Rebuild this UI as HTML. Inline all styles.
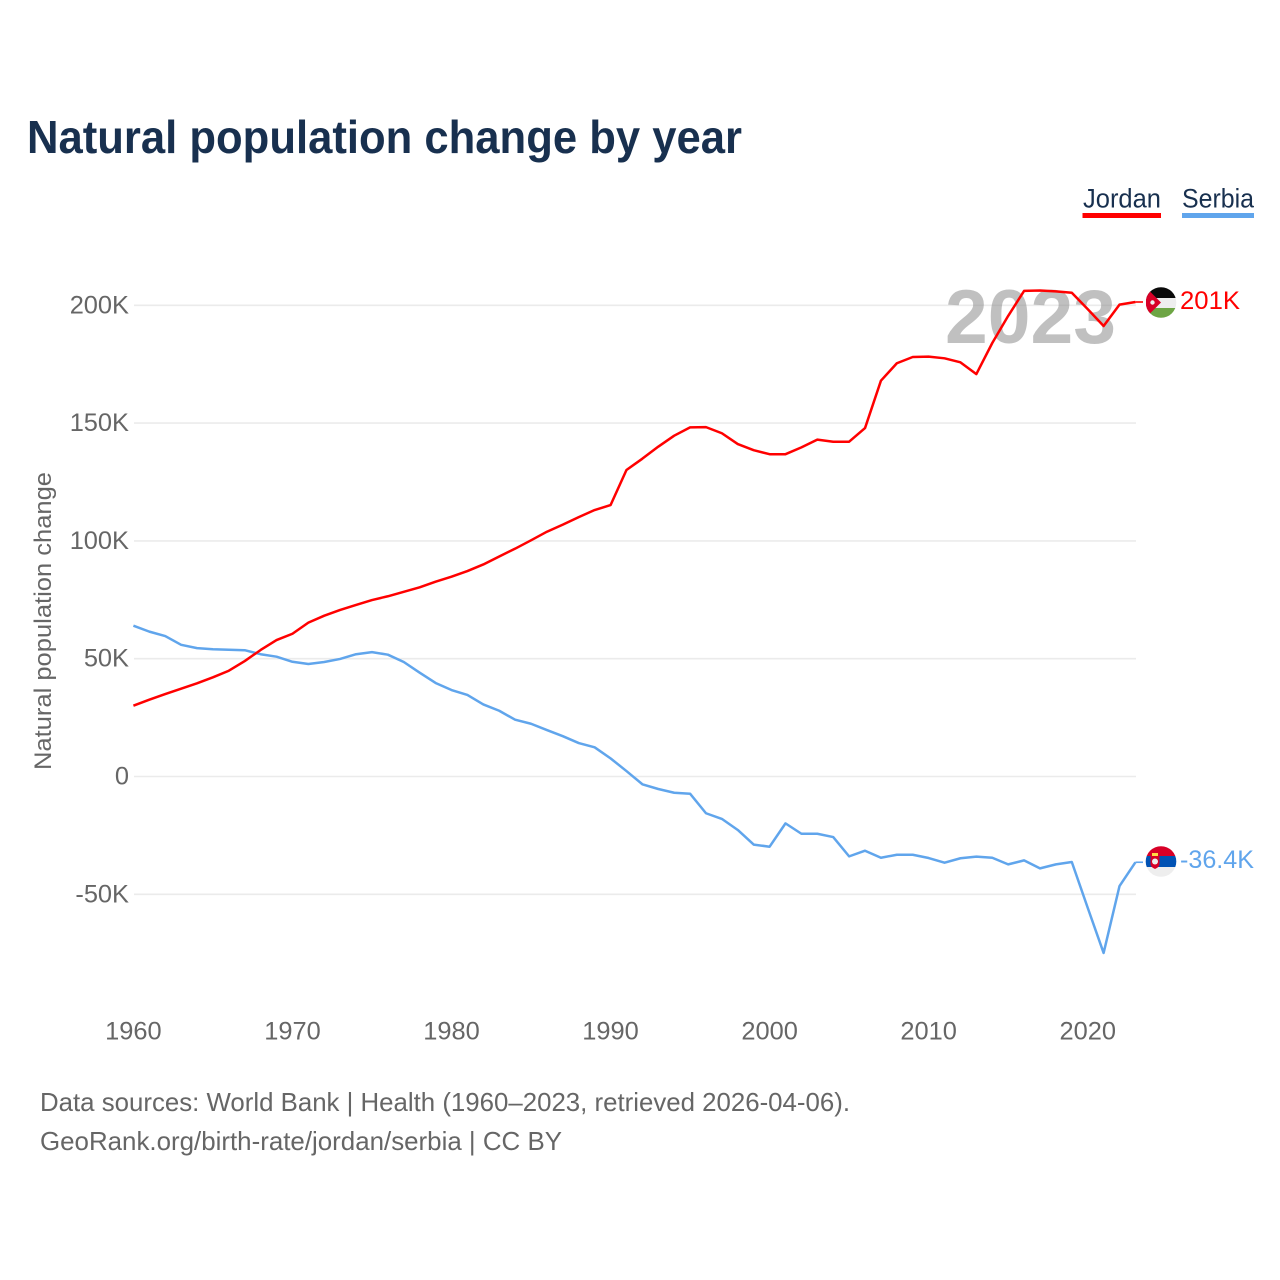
<!DOCTYPE html>
<html lang="en">
<head>
<meta charset="utf-8">
<title>Natural population change by year</title>
<style>
html,body{margin:0;padding:0;background:#fff;width:1280px;height:1280px;overflow:hidden}
svg{display:block}
text{font-family:"Liberation Sans",sans-serif}
.tick{font-size:25.4px;fill:#666}
</style>
</head>
<body>
<svg id="chart" xmlns="http://www.w3.org/2000/svg" width="1280" height="1280" viewBox="0 0 1280 1280">
  <defs>
    <clipPath id="clip-jordan"><circle cx="1161" cy="302.5" r="15.3"/></clipPath>
    <clipPath id="clip-serbia"><circle cx="1161" cy="861.5" r="15.3"/></clipPath>
  </defs>
  <rect width="1280" height="1280" fill="#fff"/>
  <text x="27" y="153" font-size="46" font-weight="700" fill="#18304f" textLength="715" lengthAdjust="spacingAndGlyphs">Natural population change by year</text>

  <g>
    <g>
      <text x="1083" y="207.500" font-size="26.500" fill="#18304f" textLength="78" lengthAdjust="spacingAndGlyphs">Jordan</text>
      <rect x="1082.5" y="213" width="78.5" height="5" fill="#ff0000"/>
    </g>
    <g>
      <text x="1182" y="207.500" font-size="26.500" fill="#18304f" textLength="72" lengthAdjust="spacingAndGlyphs">Serbia</text>
      <rect x="1182" y="213" width="72" height="5" fill="#60a5ec"/>
    </g>
  </g>

  <g id="grid"></g>
  <text x="945" y="343" font-size="76" font-weight="700" fill="#8c8c8c" fill-opacity="0.55" textLength="171" lengthAdjust="spacingAndGlyphs">2023</text>
  <g id="y-ticks"></g>
  <g id="x-ticks"></g>
  <text transform="translate(51,621) rotate(-90)" font-size="24" fill="#666" text-anchor="middle" textLength="298" lengthAdjust="spacingAndGlyphs">Natural population change</text>

  <g id="lines"></g>

  <g clip-path="url(#clip-jordan)">
    <rect x="1145" y="287" width="32" height="11" fill="#0a0a0a"/>
    <rect x="1145" y="298" width="32" height="10" fill="#eeeeee"/>
    <rect x="1145" y="308" width="32" height="11" fill="#6da544"/>
    <polygon points="1146,287.5 1161,302.5 1146,317.5" fill="#d80027"/>
    <circle cx="1152.5" cy="302.5" r="2.2" fill="#eeeeee"/>
  </g>
  <g clip-path="url(#clip-serbia)">
    <rect x="1145" y="846" width="32" height="10" fill="#d80027"/>
    <rect x="1145" y="856" width="32" height="11" fill="#0052b4"/>
    <rect x="1145" y="867" width="32" height="11" fill="#eeeeee"/>
    <rect x="1152" y="853" width="6" height="3" fill="#ffda44"/>
    <path d="M1150.5 856h9v8q0 3-4.500 5q-4.500-2-4.500-5z" fill="#d80027"/>
    <circle cx="1155" cy="861.5" r="3" fill="#eeeeee"/>
  </g>
  <text x="1180" y="309" font-size="25" fill="#ff0000" textLength="60" lengthAdjust="spacingAndGlyphs">201K</text>
  <text x="1180" y="868" font-size="25" fill="#60a5ec" textLength="74" lengthAdjust="spacingAndGlyphs">-36.4K</text>

  <text x="40" y="1111" font-size="26" fill="#666" textLength="810" lengthAdjust="spacingAndGlyphs">Data sources: World Bank | Health (1960–2023, retrieved 2026-04-06).</text>
  <text x="40" y="1150" font-size="26" fill="#666" textLength="522" lengthAdjust="spacingAndGlyphs">GeoRank.org/birth-rate/jordan/serbia | CC BY</text>
</svg>
<script>
var firstYear = 1960;
var jordanValues = [30.05,32.6,35.0,37.27,39.56,42.1,44.9,49.0,53.7,57.9,60.6,65.3,68.25,70.7,72.8,74.9,76.5,78.4,80.3,82.7,84.8,87.2,90.0,93.4,96.7,100.25,103.9,106.9,110.1,113.1,115.2,130.1,134.9,140.0,144.65,148.2,148.3,145.7,141.1,138.5,136.8,136.8,139.7,143.0,142.1,142.1,147.9,168.0,175.4,178.05,178.2,177.5,175.8,170.8,184.0,195.5,206.1,206.3,205.9,205.35,198.4,191.2,200.3,201.4];
var serbiaValues = [64.0,61.5,59.6,55.9,54.5,54.0,53.8,53.6,51.9,50.85,48.7,47.75,48.6,49.9,51.9,52.8,51.7,48.6,44.05,39.7,36.7,34.6,30.6,27.9,24.1,22.4,19.7,17.1,14.2,12.4,7.7,2.3,-3.3,-5.3,-6.9,-7.3,-15.6,-18.0,-22.7,-28.9,-29.8,-19.9,-24.3,-24.3,-25.7,-33.9,-31.5,-34.5,-33.2,-33.2,-34.6,-36.6,-34.7,-34.0,-34.5,-37.3,-35.6,-39.0,-37.3,-36.3,-55.7,-74.9,-46.5,-36.4];
var yTickValues = [200,150,100,50,0,-50];
var yTickLabels = ["200K","150K","100K","50K","0","-50K"];
var xTickValues = [1960,1970,1980,1990,2000,2010,2020];

function xScale(year){ return 133.4 + (year - 1960) * 15.905; }
function yScale(v){ return 776.5 - v * 2.356; }

var NS = "http://www.w3.org/2000/svg";
var grid = document.getElementById("grid");
var yTicks = document.getElementById("y-ticks");
var xTicks = document.getElementById("x-ticks");
var lines = document.getElementById("lines");

yTickValues.forEach(function(v, i){
  var l = document.createElementNS(NS, "line");
  
  
  l.setAttribute("x1", 134);
  l.setAttribute("x2", 1136);
  l.setAttribute("y1", yScale(v));
  l.setAttribute("y2", yScale(v));
  l.setAttribute("stroke", "#ebebeb");
  l.setAttribute("stroke-width", "1.6");
  grid.appendChild(l);
  var t = document.createElementNS(NS, "text");
  
  
  t.setAttribute("class", "tick");
  t.setAttribute("x", 129);
  t.setAttribute("y", yScale(v) + 8);
  t.setAttribute("text-anchor", "end");
  t.textContent = yTickLabels[i];
  yTicks.appendChild(t);
});

xTickValues.forEach(function(y){
  var t = document.createElementNS(NS, "text");
  
  
  t.setAttribute("class", "tick");
  t.setAttribute("x", xScale(y));
  t.setAttribute("y", 1039.5);
  t.setAttribute("text-anchor", "middle");
  t.textContent = String(y);
  xTicks.appendChild(t);
});

function pointsFor(values){
  return values.map(function(v, i){
    return xScale(firstYear + i).toFixed(2) + "," + yScale(v).toFixed(2);
  });
}

var serbiaLine = document.createElementNS(NS, "polyline");


serbiaLine.setAttribute("points", pointsFor(serbiaValues).join(" "));
serbiaLine.setAttribute("fill", "none");
serbiaLine.setAttribute("stroke", "#60a5ec");
serbiaLine.setAttribute("stroke-width", "2.5");
serbiaLine.setAttribute("stroke-linejoin", "round");
lines.appendChild(serbiaLine);

var jordanLine = document.createElementNS(NS, "polyline");


jordanLine.setAttribute("points", pointsFor(jordanValues).join(" "));
jordanLine.setAttribute("fill", "none");
jordanLine.setAttribute("stroke", "#ff0000");
jordanLine.setAttribute("stroke-width", "2.5");
jordanLine.setAttribute("stroke-linejoin", "round");
lines.appendChild(jordanLine);

var jordanConnector = document.createElementNS(NS, "line");


jordanConnector.setAttribute("x1", xScale(2023));
jordanConnector.setAttribute("x2", 1143);
jordanConnector.setAttribute("y1", yScale(jordanValues[jordanValues.length - 1]));
jordanConnector.setAttribute("y2", yScale(jordanValues[jordanValues.length - 1]));
jordanConnector.setAttribute("stroke", "#ff0000");
jordanConnector.setAttribute("stroke-width", "1.6");
lines.appendChild(jordanConnector);

var serbiaConnector = document.createElementNS(NS, "line");


serbiaConnector.setAttribute("x1", xScale(2023));
serbiaConnector.setAttribute("x2", 1143);
serbiaConnector.setAttribute("y1", yScale(serbiaValues[serbiaValues.length - 1]));
serbiaConnector.setAttribute("y2", yScale(serbiaValues[serbiaValues.length - 1]));
serbiaConnector.setAttribute("stroke", "#60a5ec");
serbiaConnector.setAttribute("stroke-width", "1.6");
lines.appendChild(serbiaConnector);
</script>
</body>
</html>
